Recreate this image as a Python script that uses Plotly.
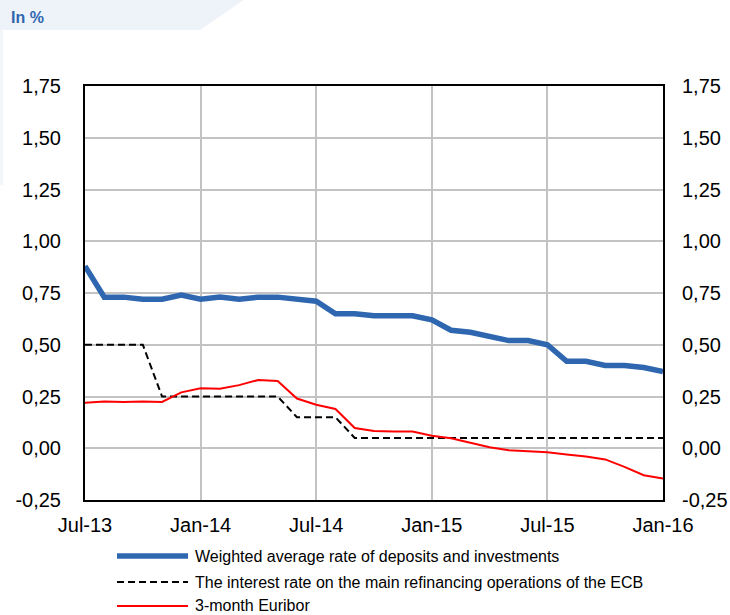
import plotly.graph_objects as go

months = ["Jul-13","Aug-13","Sep-13","Oct-13","Nov-13","Dec-13",
          "Jan-14","Feb-14","Mar-14","Apr-14","May-14","Jun-14",
          "Jul-14","Aug-14","Sep-14","Oct-14","Nov-14","Dec-14",
          "Jan-15","Feb-15","Mar-15","Apr-15","May-15","Jun-15",
          "Jul-15","Aug-15","Sep-15","Oct-15","Nov-15","Dec-15","Jan-16"]

deposits = [0.88,0.73,0.73,0.72,0.72,0.74,
            0.72,0.73,0.72,0.73,0.73,0.72,
            0.71,0.65,0.65,0.64,0.64,0.64,
            0.62,0.57,0.56,0.54,0.52,0.52,
            0.50,0.42,0.42,0.40,0.40,0.39,0.37]

ecb = [0.50,0.50,0.50,0.50,0.25,0.25,
       0.25,0.25,0.25,0.25,0.25,0.15,
       0.15,0.15,0.05,0.05,0.05,0.05,
       0.05,0.05,0.05,0.05,0.05,0.05,
       0.05,0.05,0.05,0.05,0.05,0.05,0.05]

euribor = [0.22,0.226,0.223,0.226,0.224,0.27,
           0.29,0.288,0.305,0.33,0.325,0.24,
           0.21,0.19,0.098,0.083,0.081,0.081,
           0.06,0.048,0.027,0.005,-0.01,-0.014,
           -0.019,-0.03,-0.04,-0.054,-0.09,-0.13,-0.146]

series_names = ["Weighted average rate of deposits and investments",
                "The interest rate on the main refinancing operations of the ECB",
                "3-month Euribor"]
series_colors = ["#2e66b0", "black", "#ff0000"]
series_widths = [5.5, 2, 2]
series_dash = ["solid", "7px,4px", "solid"]

xticks = ["Jul-13","Jan-14","Jul-14","Jan-15","Jul-15","Jan-16"]
yticks = [-0.25,0,0.25,0.5,0.75,1.0,1.25,1.5,1.75]
ytick_text = ["-0,25","0,00","0,25","0,50","0,75","1,00","1,25","1,50","1,75"]

FONT = "Liberation Sans"

fig = go.Figure()
for name, vals, col, w, d in zip(series_names, [deposits, ecb, euribor],
                                 series_colors, series_widths, series_dash):
    fig.add_trace(go.Scatter(x=months, y=vals, mode="lines", name=name,
                             showlegend=False,
                             line=dict(color=col, width=w, dash=d)))
fig.add_trace(go.Scatter(x=months, y=deposits, mode="lines", yaxis="y2",
                         showlegend=False, hoverinfo="skip", opacity=0,
                         line=dict(width=0)))

axis_font = dict(family=FONT, size=20, color="black")

fig.update_layout(
    width=730, height=615, autosize=False,
    margin=dict(l=85, r=67, t=86, b=115, autoexpand=False),
    paper_bgcolor="white", plot_bgcolor="white",
    font=dict(family=FONT, color="black"),
    xaxis=dict(type="category", range=[0, 30], tickmode="array",
               tickvals=xticks, ticktext=xticks, tickfont=axis_font,
               showgrid=True, gridcolor="#c3c3c3", gridwidth=2,
               showline=True, linecolor="black", linewidth=2, mirror=True,
               ticks="", ticklabelstandoff=6, zeroline=False,
               automargin=False),
    yaxis=dict(range=[-0.25, 1.75], tickmode="array", tickvals=yticks,
               ticktext=ytick_text,
               tickfont=axis_font, showgrid=True, gridcolor="#c3c3c3",
               gridwidth=2, showline=True, linecolor="black", linewidth=2,
               mirror=True, ticks="", ticklabelstandoff=18, zeroline=False,
               automargin=False),
    yaxis2=dict(range=[-0.25, 1.75], tickmode="array", tickvals=yticks,
                ticktext=ytick_text,
                tickfont=axis_font, overlaying="y", side="right",
                showgrid=False, showline=False, ticks="",
                ticklabelstandoff=18, zeroline=False, automargin=False),
    showlegend=False,
)

# custom legend below the plot
legend_rows_y = [-0.1353, -0.1981, -0.2560]
for name, col, w, d, yy in zip(series_names, series_colors, series_widths,
                               series_dash, legend_rows_y):
    fig.add_shape(type="line", xref="paper", yref="paper",
                  x0=0.0554, x1=0.1782, y0=yy, y1=yy,
                  line=dict(color=col, width=w, dash=d))
    fig.add_annotation(text=name, xref="paper", yref="paper",
                       x=0.1869, y=yy, xanchor="left", yanchor="middle",
                       showarrow=False,
                       font=dict(family=FONT, size=16, color="black"))

# header banner
fig.add_shape(type="path", xref="paper", yref="paper",
              path="M -0.16 1.21 L 0.2768 1.21 L 0.199 1.1353 L -0.16 1.1353 Z",
              fillcolor="#eef2f9", line=dict(width=0), layer="below")
fig.add_shape(type="rect", xref="paper", yref="paper",
              x0=-0.16, x1=-0.142, y0=0.76, y1=1.1353,
              fillcolor="#f2f5fa", line=dict(width=0), layer="below")
fig.add_annotation(text="<b>In %</b>", xref="paper", yref="paper",
                   x=-0.132, y=1.1643, xanchor="left", yanchor="middle",
                   showarrow=False,
                   font=dict(family=FONT, size=16, color="#2e66b0"))

fig.write_html("out.html",
               config={"displayModeBar": False, "responsive": False},
               post_script="document.body.style.margin='0px';"
                           "document.body.style.overflow='hidden';"
                           "document.documentElement.style.overflow='hidden';")
